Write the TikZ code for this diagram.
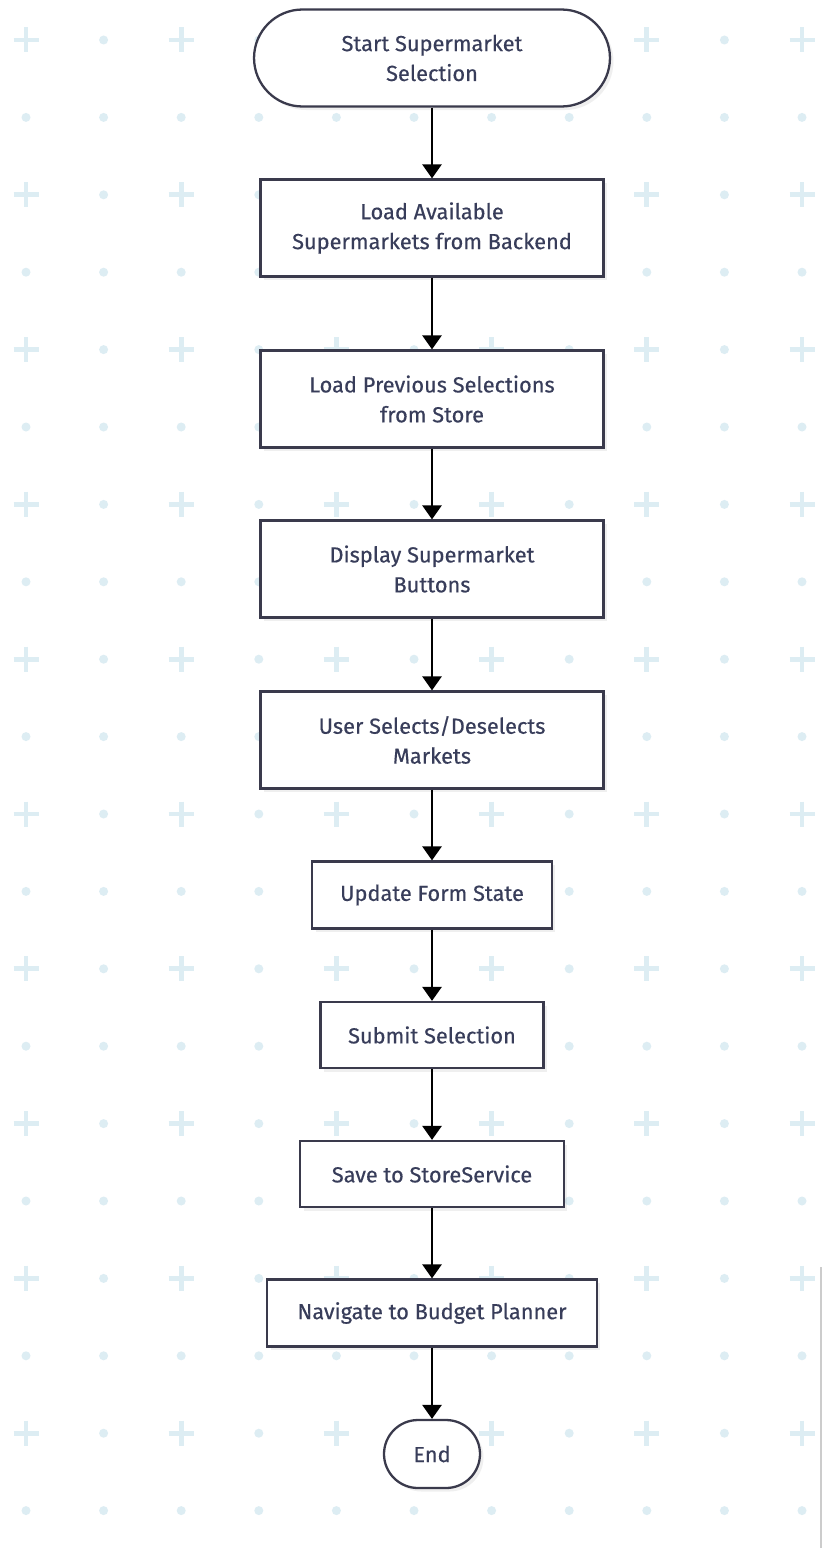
\documentclass[tikz,border=0pt]{standalone}
\usepackage{fontspec}
\setmainfont{Fira Sans}
\newfontfamily\boxfont{Fira Sans}[FakeBold=0.4]
\usetikzlibrary{arrows.meta,shadows}

\definecolor{dotblue}{HTML}{DDEDF3}
\definecolor{edgegray}{HTML}{3A3A4C}
\definecolor{txtblue}{HTML}{383D5A}
\tikzset{
  box/.style={draw=edgegray,line width=1.3pt,fill=white,align=center,
    text=txtblue,font=\boxfont\fontsize{12.4}{17}\selectfont,inner sep=0pt,
    drop shadow={opacity=0.12,shadow xshift=2pt,shadow yshift=-2pt}},
  flow/.style={-{Triangle[width=11pt,length=8pt]},line width=1.1pt}
}

\begin{document}
\begin{tikzpicture}[x=0.02cm,y=-0.02cm]
\useasboundingbox[fill=white] (0,0) rectangle (823,1548);
% background pattern
\foreach \i in {0,...,10}{
  \foreach \j in {0,...,19}{
    \pgfmathsetmacro{\px}{26+77.6*\i}
    \pgfmathsetmacro{\py}{40+77.4*\j}
    \pgfmathtruncatemacro{\plus}{(mod(\i,2)==0)&&(mod(\j,2)==0)}
    \ifnum\plus=1
      \draw[dotblue,line width=2.8pt] (\px-12.5,\py) -- (\px+12.5,\py) (\px,\py-12.5) -- (\px,\py+12.5);
    \else
      \fill[dotblue] (\px,\py) circle (4.5);
    \fi
  }
}
\draw[gray!40,line width=0.6pt] (821,1267) -- (821,1548);

\node[box,minimum width=7.12cm,minimum height=1.94cm,rounded corners=0.97cm] (start) at (432,58) {Start Supermarket\\Selection};
\node[box,minimum width=6.86cm,minimum height=1.94cm] (load) at (432,228) {Load Available\\Supermarkets from Backend};
\node[box,minimum width=6.86cm,minimum height=1.94cm] (prev) at (432,399) {Load Previous Selections\\from Store};
\node[box,minimum width=6.86cm,minimum height=1.94cm] (disp) at (432,569) {Display Supermarket\\Buttons};
\node[box,minimum width=6.86cm,minimum height=1.94cm] (pick) at (432,740) {User Selects/Deselects\\Markets};
\node[box,minimum width=4.8cm,minimum height=1.34cm] (upd) at (432,895) {Update Form State};
\node[box,minimum width=4.46cm,minimum height=1.32cm] (sub) at (432,1035) {Submit Selection};
\node[box,minimum width=5.28cm,minimum height=1.32cm] (save) at (432,1174) {Save to StoreService};
\node[box,minimum width=6.6cm,minimum height=1.34cm] (nav) at (432,1313) {Navigate to Budget Planner};
\node[box,minimum width=1.92cm,minimum height=1.36cm,rounded corners=0.68cm] (stop) at (432,1454) {End};

\foreach \a/\b in {start/load,load/prev,prev/disp,disp/pick,pick/upd,upd/sub,sub/save,save/nav,nav/stop}
  \draw[flow] (\a) -- (\b);
\end{tikzpicture}
\end{document}
